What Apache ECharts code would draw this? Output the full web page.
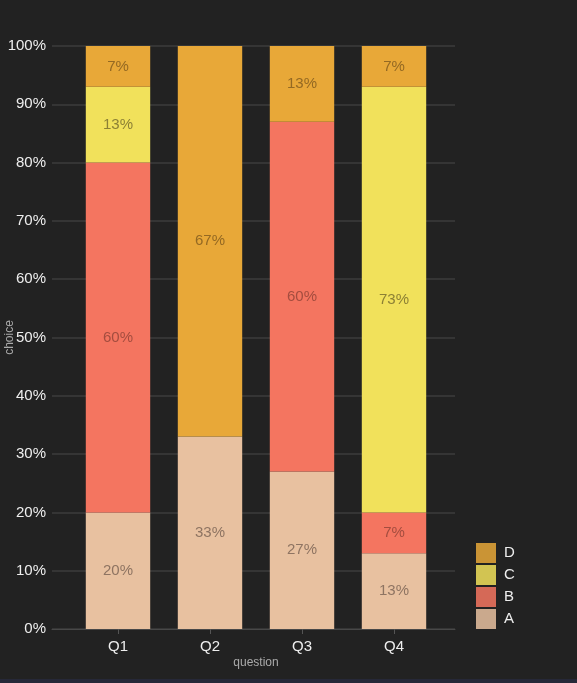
<!DOCTYPE html>
<html>
<head>
<meta charset="utf-8">
<script src="https://cdn.jsdelivr.net/npm/echarts@6/dist/echarts.min.js"></script>
<style>
  html, body { margin: 0; padding: 0; background: #222222; }
  #chart { width: 577px; height: 679px; }
  .strip { width: 577px; height: 4px; background: #262838; }
</style>
</head>
<body>
<div id="chart"></div>
<div class="strip"></div>
<script>
const questions = ['Q1', 'Q2', 'Q3', 'Q4']
const choiceA = [20, 33, 27, 13]
const choiceB = [60, 0, 60, 7]
const choiceC = [13, 0, 0, 73]
const choiceD = [7, 67, 13, 7]
const yTicks = [0, 10, 20, 30, 40, 50, 60, 70, 80, 90, 100]

const font = '"Liberation Sans", Arial, sans-serif'

const makeSeries = (name, data, color, labelColor) => ({
  name: name,
  type: 'bar',
  stack: 'all',
  xAxisIndex: 1,
  yAxisIndex: 1,
  barCategoryGap: '30%',
  data: data,
  itemStyle: { color: color },
  label: {
    show: true,
    position: 'inside',
    color: labelColor,
    fontSize: 15,
    fontFamily: font,
    formatter: p => p.value ? p.value + '%' : ''
  }
})

const chart = echarts.init(document.getElementById('chart'))

chart.setOption({
  backgroundColor: '#222222',
  animation: false,
  textStyle: { fontFamily: font },
  grid: [
    { left: 52, right: 122, top: 46, bottom: 50, outerBoundsMode: 'none', containLabel: false },
    { left: 72, right: 137, top: 46, bottom: 50, outerBoundsMode: 'none', containLabel: false }
  ],
  legend: {
    orient: 'vertical',
    left: 471,
    top: 538,
    itemWidth: 20,
    itemHeight: 20,
    itemGap: 2,
    icon: 'rect',
    data: ['D', 'C', 'B', 'A'],
    itemStyle: { opacity: 0.85 },
    textStyle: { color: '#eeeeee', fontSize: 15, fontFamily: font, padding: [0, 0, 0, 3] }
  },
  xAxis: [
    {
      gridIndex: 0,
      type: 'value',
      min: 0,
      max: 1,
      axisLine: { show: true, lineStyle: { color: '#484848', width: 1 } },
      axisTick: { show: false },
      axisLabel: { show: false },
      splitLine: { show: false }
    },
    {
      gridIndex: 1,
      type: 'category',
      data: questions,
      axisLine: { show: false },
      axisTick: { show: true, alignWithLabel: true, length: 5, lineStyle: { color: '#555555' } },
      axisLabel: { color: '#eeeeee', fontSize: 15, margin: 10 },
      name: 'question',
      nameLocation: 'middle',
      nameGap: 28,
      nameMoveOverlap: false,
      nameTextStyle: { color: '#aaaaaa', fontSize: 12 }
    }
  ],
  yAxis: [
    {
      gridIndex: 0,
      type: 'value',
      min: yTicks[0],
      max: yTicks[yTicks.length - 1],
      interval: yTicks[1] - yTicks[0],
      axisLine: { show: false },
      axisTick: { show: false },
      axisLabel: { color: '#eeeeee', fontSize: 15, margin: 6, formatter: '{value}%' },
      splitLine: { lineStyle: { color: '#3c3c3c', width: 1.5 } },
      name: 'choice',
      nameLocation: 'middle',
      nameGap: 36,
      nameMoveOverlap: false,
      nameTextStyle: { color: '#aaaaaa', fontSize: 12 }
    },
    {
      gridIndex: 1,
      type: 'value',
      min: 0,
      max: 100,
      show: false
    }
  ],
  series: [
    makeSeries('A', choiceA, '#e8c1a0', '#8e7462'),
    makeSeries('B', choiceB, '#f47560', '#a44d3f'),
    makeSeries('C', choiceC, '#f1e15b', '#8c8035'),
    makeSeries('D', choiceD, '#e8a838', '#946923')
  ]
})
</script>
</body>
</html>
